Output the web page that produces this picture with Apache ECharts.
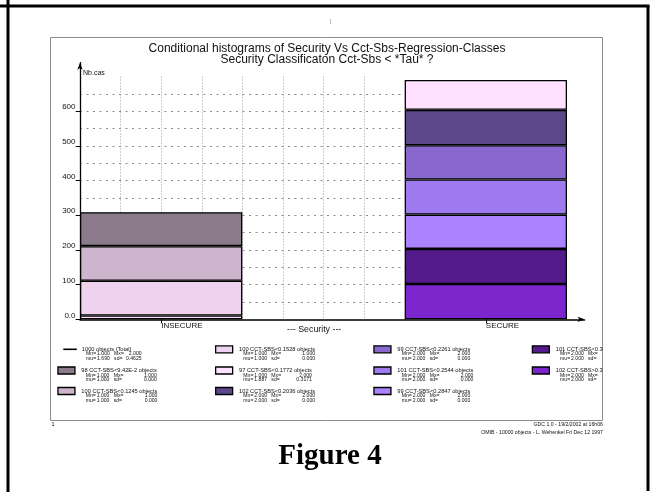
<!DOCTYPE html>
<html>
<head>
<meta charset="utf-8">
<script src="https://cdn.jsdelivr.net/npm/echarts@6/dist/echarts.min.js"></script>
<style>
  html, body { margin: 0; padding: 0; background: #fff; }
  #chart { width: 653px; height: 494px; }
</style>
</head>
<body>
<div id="chart"></div>
<script>
// Category bands along the x axis (middle band is an empty gap)
const categories = ['INSECURE', '', 'SECURE'];

// Stacked classes, listed from the bottom of each stack to the top
const classNames = [
  '102 CCT-SBS>0.3286 objects',
  '101 CCT-SBS<0.3286 objects',
  '99 CCT-SBS<0.2847 objects',
  '101 CCT-SBS<0.2544 objects',
  '99 CCT-SBS<0.2261 objects',
  '102 CCT-SBS<0.2036 objects',
  '97 CCT-SBS<0.1772 objects',
  '100 CCT-SBS<0.1528 objects',
  '100 CCT-SBS<0.1245 objects',
  '98 CCT-SBS<9.42E-2 objects'
];
const insecureCounts = [null, null, null, null, null, null, 11, 100, 100, 98];
const secureCounts   = [102, 101, 99, 101, 99, 102, 86, null, null, null];
const classColors = ['#7d26cd', '#551a8b', '#ab82ff', '#9f79ee', '#8968cd',
                     '#5d478b', '#ffe1ff', '#eed2ee', '#cdb5cd', '#8b7b8b'];

// Per-class statistics printed in the legend
const classMn = ['2.000', '2.000', '2.000', '2.000', '2.000', '2.000', '1.000', '1.000', '1.000', '1.000'];
const classMx = ['2.000', '2.000', '2.000', '2.000', '2.000', '2.000', '2.000', '1.000', '1.000', '1.000'];
const classMu = ['2.000', '2.000', '2.000', '2.000', '2.000', '2.000', '1.887', '1.000', '1.000', '1.000'];
const classSd = ['0.000', '0.000', '0.000', '0.000', '0.000', '0.000', '0.3171', '0.000', '0.000', '0.000'];

const totalName = '1000 objects (Total)';
const totalStats = { mn: '1.000', mx: '2.000', mu: '1.690', sd: '0.4625' };

const yLabelTicks = [0, 100, 200, 300, 400, 500, 600];

const SANS = '"Liberation Sans", Arial, Helvetica, sans-serif';
const SERIF = '"Liberation Serif", "Times New Roman", serif';

const stats = { [totalName]: totalStats };
classNames.forEach((n, i) => {
  stats[n] = { mn: classMn[i], mx: classMx[i], mu: classMu[i], sd: classSd[i] };
});

// Legend reads column by column, three entries per column
const legendOrder = [totalName].concat(classNames.slice().reverse());
const colLeft = [57.3, 215, 373.3, 531.7];
const rowCenter = [349.3, 370.5, 391];
const LH = 4.7;
const FS = 5.7;
const FS2 = 5.1;

function legendText(name) {
  const s = stats[name];
  return '{t|' + name + '}\n' +
    '{i| }{k|Mn=}{v|' + s.mn + '}{k2|Mx=}{w|' + s.mx + '}\n' +
    '{i| }{k|mu=}{v|' + s.mu + '}{k2|sd=}{w|' + s.sd + '}';
}
const richBase = { fontSize: FS2, lineHeight: LH, fontFamily: SANS, color: '#111' };
const rich = {
  t: Object.assign({}, richBase, { fontSize: FS }),
  i: Object.assign({ width: 4.3 }, richBase),
  k: Object.assign({ width: 11 }, richBase),
  v: Object.assign({ width: 17 }, richBase),
  k2: Object.assign({ width: 10.5 }, richBase),
  w: Object.assign({ width: 17, align: 'right' }, richBase)
};

const legends = legendOrder.map((name, idx) => {
  const col = Math.floor(idx / 3), row = idx % 3;
  const isTotal = name === totalName;
  const textStyle = {
    fontSize: FS, fontFamily: SANS, color: '#111', lineHeight: LH,
    padding: [2 * LH, 0, 0, isTotal ? 0 : 1.4],
    rich: rich
  };
  if (col === 3) {
    textStyle.width = 49;
    textStyle.overflow = 'truncate';
    textStyle.ellipsis = '';
  }
  return {
    show: true,
    orient: 'vertical',
    left: isTotal ? 63.3 : colLeft[col],
    top: rowCenter[row] - 2.5 * LH,
    padding: 0,
    itemGap: 0,
    itemWidth: isTotal ? 13.5 : 17,
    itemHeight: isTotal ? 1.6 : 7,
    selectedMode: false,
    data: [{ name: name, icon: 'rect' }],
    itemStyle: isTotal ? { color: '#000', borderWidth: 0 } : { borderColor: '#000', borderWidth: 1.3 },
    formatter: legendText,
    textStyle: textStyle
  };
});

const barSeries = classNames.map((name, i) => ({
  type: 'bar',
  name: name,
  xAxisIndex: 0,
  yAxisIndex: 0,
  stack: 'cases',
  barWidth: '100%',
  barCategoryGap: '0%',
  data: [insecureCounts[i], null, secureCounts[i]],
  itemStyle: { color: classColors[i], borderColor: '#000', borderWidth: 1.3 },
  emphasis: { disabled: true },
  silent: true
}));

const totalSeries = {
  type: 'line',
  name: totalName,
  xAxisIndex: 0,
  yAxisIndex: 0,
  data: [],
  symbol: 'none',
  lineStyle: { color: '#000', width: 1.5 },
  itemStyle: { color: '#000' }
};

const chart = echarts.init(document.getElementById('chart'), null, { renderer: 'canvas' });

const option = {
  animation: false,
  backgroundColor: '#fff',
  textStyle: { fontFamily: SANS },
  title: [
    {
      text: 'Conditional histograms of Security Vs Cct-Sbs-Regression-Classes\nSecurity Classificaton Cct-Sbs < *Tau* ?',
      left: 327, top: 43.5, padding: 0, textAlign: 'center',
      textStyle: { fontSize: 12, fontWeight: 'normal', color: '#111', lineHeight: 10.5, fontFamily: SANS, align: 'center' }
    },
    {
      text: '|', left: 330, top: 18, padding: 0,
      textStyle: { fontSize: 5.5, fontWeight: 'normal', color: '#777', fontFamily: SANS }
    },
    {
      text: '--- Security ---', left: 287, top: 325, padding: 0,
      textStyle: { fontSize: 8.8, fontWeight: 'normal', color: '#111', fontFamily: SANS }
    },
    {
      text: '1', left: 51.5, top: 421, padding: 0,
      textStyle: { fontSize: 5.5, fontWeight: 'normal', color: '#111', fontFamily: SANS }
    },
    {
      text: 'GDC 1.0 - 19/2/2002 at 16h06\nOMIB - 10000 objects - L. Wehenkel Fri Dec 12 1997',
      left: 603, top: 420.5, padding: 0, textAlign: 'right',
      textStyle: { fontSize: 5.2, fontWeight: 'normal', color: '#111', lineHeight: 8, fontFamily: SANS, align: 'right' }
    },
    {
      text: 'Figure 4', left: 330, top: 442, padding: 0, textAlign: 'center',
      textStyle: { fontSize: 29, fontWeight: 'bold', color: '#000', fontFamily: SERIF }
    }
  ],
  legend: legends,
  grid: [
    { left: 80, top: 62.7, width: 487, height: 256.6, outerBoundsMode: 'none' },
    { left: 80, top: 62.7, width: 504.5, height: 256.6, outerBoundsMode: 'none' },
    { left: 80, top: 76.5, width: 324.67, height: 242.8, outerBoundsMode: 'none' }
  ],
  xAxis: [
    {
      gridIndex: 0, type: 'category', data: categories,
      axisLine: { show: false },
      axisTick: {
        show: true, alignWithLabel: true, length: 4,
        interval: (i, v) => v !== '',
        lineStyle: { color: '#000', width: 1 }
      },
      axisLabel: { interval: 0, align: 'left', margin: 2, fontSize: 8, color: '#111', fontFamily: SANS },
      splitLine: { show: false }
    },
    {
      gridIndex: 1, type: 'value', min: 0, max: 1,
      axisLine: { show: true, symbol: ['none', 'arrow'], symbolSize: [4, 7], lineStyle: { color: '#000', width: 1.5 } },
      axisTick: { show: false }, axisLabel: { show: false }, splitLine: { show: false }
    },
    {
      gridIndex: 2, type: 'value', min: 0, max: 8, interval: 1,
      axisLine: { show: false }, axisTick: { show: false }, axisLabel: { show: false },
      splitLine: { show: true, showMinLine: false, showMaxLine: false, lineStyle: { type: [1, 2], color: '#9a9a9a', width: 1 } }
    }
  ],
  yAxis: [
    {
      gridIndex: 0, type: 'value', min: 0, max: 740,
      name: 'Nb.cas', nameLocation: 'end', nameGap: -10,
      nameTextStyle: { align: 'left', verticalAlign: 'middle', padding: [0, 0, 0, 3], fontSize: 7, color: '#111', fontFamily: SANS },
      axisLine: { show: true, symbol: ['none', 'arrow'], symbolSize: [4, 7], lineStyle: { color: '#000', width: 1.3 } },
      axisTick: { show: true, length: 4.3, customValues: yLabelTicks, lineStyle: { color: '#000', width: 1 } },
      axisLabel: {
        customValues: yLabelTicks, margin: 4.5, fontSize: 8, color: '#111', fontFamily: SANS,
        verticalAlign: 'bottom',
        formatter: v => (v === 0 ? '0.0' : String(v))
      },
      splitLine: { show: false }
    },
    { gridIndex: 1, type: 'value', min: 0, max: 1, show: false },
    {
      gridIndex: 2, type: 'value', min: 0, max: 700, interval: 50,
      axisLine: { show: false }, axisTick: { show: false }, axisLabel: { show: false },
      splitLine: { show: true, showMinLine: false, showMaxLine: false, lineStyle: { type: [2, 4.5], color: '#8a8a8a', width: 1 } }
    }
  ],
  series: barSeries.concat([totalSeries]),
  graphic: [
    { type: 'line', silent: true, shape: { x1: 0, y1: 6, x2: 649.5, y2: 6 }, style: { stroke: '#000', lineWidth: 3 } },
    { type: 'line', silent: true, shape: { x1: 8, y1: 0, x2: 8, y2: 492 }, style: { stroke: '#000', lineWidth: 3 } },
    { type: 'line', silent: true, shape: { x1: 648, y1: 6, x2: 648, y2: 491 }, style: { stroke: '#000', lineWidth: 3 } },
    { type: 'rect', silent: true, z: -1, shape: { x: 50.5, y: 37.5, width: 552, height: 383 }, style: { fill: 'none', stroke: '#8c8c8c', lineWidth: 1 } }
  ]
};

chart.setOption(option);
</script>
</body>
</html>
